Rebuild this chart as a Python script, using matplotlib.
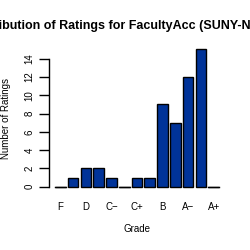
import matplotlib
matplotlib.use('Agg')
import matplotlib.pyplot as plt
import numpy as np

# Data
grades = ['F', 'D−', 'D', 'D+', 'C−', 'C', 'C+', 'B−', 'B', 'B+', 'A−', 'A', 'A+']
counts = [0, 1, 2, 2, 1, 0, 1, 1, 9, 7, 12, 15, 0]
yticks = [0, 2, 4, 6, 8, 10, 12, 14]

plt.rcParams['font.family'] = ['Liberation Sans', 'DejaVu Sans']

fig = plt.figure(figsize=(2.5, 2.5), dpi=100)
ax = fig.add_axes([0.194, 0.231, 0.708, 0.593])

# R barplot style layout: width 1, space 0.2
pos = np.arange(len(grades)) * 1.2 + 0.7
ax.bar(pos, counts, width=1.0, color='#003399', edgecolor='black', linewidth=1.0)
# zero-height bars show as flat lines
for p, c in zip(pos, counts):
    if c == 0:
        ax.plot([p - 0.5, p + 0.5], [0, 0], color='black', lw=1.0)

lo, hi = pos[0] - 0.5, pos[-1] + 0.5
span = hi - lo
ax.set_xlim(lo - 0.04 * span, hi + 0.04 * span)
ax.set_ylim(-0.6, 15.6)

for s in ['top', 'right', 'bottom']:
    ax.spines[s].set_visible(False)
ax.spines['left'].set_bounds(0, 14)
ax.spines['left'].set_linewidth(1.0)

ax.set_yticks(yticks)
ax.set_yticklabels([str(t) for t in yticks], rotation=90, va='center', fontsize=7)
ax.tick_params(axis='y', length=7, width=1.0, pad=3)

ax.set_xticks(pos[::2])
ax.set_xticklabels(grades[::2], fontsize=7)
ax.tick_params(axis='x', length=0, pad=7)

ax.set_xlabel('Grade', fontsize=7, labelpad=9)
ax.set_ylabel('Number of Ratings', fontsize=7, labelpad=10)

fig.text(137 / 250, 1 - 25.5 / 250, 'Distribution of Ratings for FacultyAcc (SUNY-New Paltz)',
         ha='center', va='center', fontsize=9, fontweight='bold')

fig.savefig('out.png', dpi=100, facecolor='white')
